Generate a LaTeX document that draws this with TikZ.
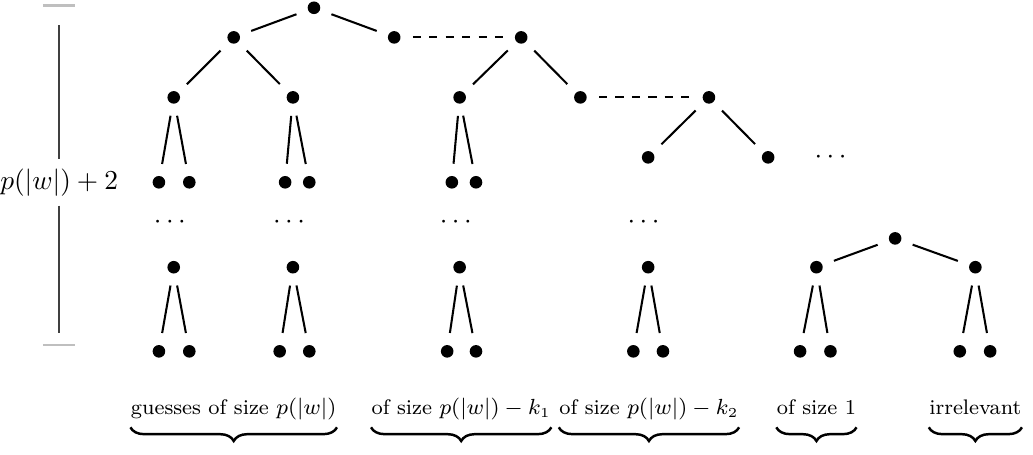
\documentclass[tikz,border=0pt]{standalone}
\usepackage{amsmath}
\usepackage{xcolor}
\usepackage{tikz}
\usetikzlibrary{decorations.pathreplacing, calc}
\tikzstyle{vtx} = [circle, fill=black, inner sep=0pt, minimum size=4.6pt, outer sep=4.5pt]
\tikzstyle{branch} = [line width=0.75pt]
\tikzstyle{gap} = [line width=0.75pt, dashed]
\tikzstyle{grp} = [font=\fontsize{7.7pt}{9pt}\selectfont, anchor=base, inner xsep=0pt, inner ysep=1.5pt, text depth=0.3em]
\tikzstyle{brc} = [decorate, decoration={brace, mirror, amplitude=5pt}, line width=0.9pt]

\begin{document}
\begin{tikzpicture}
      \useasboundingbox (0,0) rectangle (13.26,5.83);

      % Height marker
      \draw[lightgray, line width=0.8pt] (0.55,5.76) -- (0.96,5.76);
      \draw[lightgray, line width=0.8pt] (0.55,1.40) -- (0.96,1.40);
      \node (height) at (0.76,3.49) {$p(|w|)+2$};
      \coordinate (htop) at (0.76,5.51);
      \coordinate (hbot) at (0.76,1.55);
      \draw[darkgray, line width=0.7pt] (height) -- (htop);
      \draw[darkgray, line width=0.7pt] (height) -- (hbot);

      % Top levels
      \node[vtx] (r) at (4.03,5.73) {};
      \node[vtx] (a1) at (3.00,5.35) {};
      \node[vtx] (a2) at (5.06,5.35) {};
      \node[vtx] (a3) at (6.69,5.35) {};
      \node[vtx] (b1) at (2.23,4.58) {};
      \node[vtx] (b2) at (3.76,4.58) {};
      \node[vtx] (b3) at (5.90,4.58) {};
      \node[vtx] (b4) at (7.45,4.58) {};
      \node[vtx] (b5) at (9.10,4.58) {};
      \node[vtx] (c1) at (8.32,3.81) {};
      \node[vtx] (c2) at (9.86,3.81) {};
      \node (cdots) at (10.69,3.81) {$\cdots$};

      % Guess chains
      \node[vtx] (u1l) at (2.04,3.49) {};
      \node[vtx] (u1r) at (2.43,3.49) {};
      \node[vtx] (u2l) at (3.66,3.49) {};
      \node[vtx] (u2r) at (3.97,3.49) {};
      \node[vtx] (u3l) at (5.80,3.49) {};
      \node[vtx] (u3r) at (6.11,3.49) {};
      \node (d1) at (2.21,2.98) {$\cdots$};
      \node (d2) at (3.74,2.98) {$\cdots$};
      \node (d3) at (5.88,2.98) {$\cdots$};
      \node (d4) at (8.29,2.98) {$\cdots$};
      \node[vtx] (m1) at (2.23,2.40) {};
      \node[vtx] (m2) at (3.76,2.40) {};
      \node[vtx] (m3) at (5.90,2.40) {};
      \node[vtx] (m4) at (8.32,2.40) {};

      % Irrelevant part
      \node[vtx] (r2) at (11.49,2.77) {};
      \node[vtx] (m5) at (10.48,2.40) {};
      \node[vtx] (m6) at (12.52,2.40) {};

      % Leaves
      \node[vtx] (v1l) at (2.04,1.32) {};
      \node[vtx] (v1r) at (2.43,1.32) {};
      \node[vtx] (v2l) at (3.59,1.32) {};
      \node[vtx] (v2r) at (3.97,1.32) {};
      \node[vtx] (v3l) at (5.74,1.32) {};
      \node[vtx] (v3r) at (6.11,1.32) {};
      \node[vtx] (v4l) at (8.13,1.32) {};
      \node[vtx] (v4r) at (8.51,1.32) {};
      \node[vtx] (v5l) at (10.27,1.32) {};
      \node[vtx] (v5r) at (10.66,1.32) {};
      \node[vtx] (v6l) at (12.32,1.32) {};
      \node[vtx] (v6r) at (12.71,1.32) {};

      % Branches
      \foreach \p/\c in {r/a1, r/a2, a1/b1, a1/b2, a3/b3, a3/b4, b5/c1, b5/c2,
                         b1/u1l, b1/u1r, b2/u2l, b2/u2r, b3/u3l, b3/u3r,
                         r2/m5, r2/m6,
                         m1/v1l, m1/v1r, m2/v2l, m2/v2r, m3/v3l, m3/v3r,
                         m4/v4l, m4/v4r, m5/v5l, m5/v5r, m6/v6l, m6/v6r}
        \draw[branch] (\p) -- (\c);
      \draw[gap] (a2) -- (a3);
      \draw[gap] (b4) -- (b5);

      % Group labels with braces
      \node[grp] (g1) at (3.00,0.51) {guesses of size $p(|w|)$};
      \node[grp] (g2) at (5.92,0.51) {of size $p(|w|)-k_1$};
      \node[grp] (g3) at (8.33,0.51) {of size $p(|w|)-k_2$};
      \node[grp] (g4) at (10.48,0.51) {of size 1};
      \node[grp] (g5) at (12.52,0.51) {irrelevant};
      \foreach \g in {g1, g2, g3, g4, g5}
        \draw[brc] (\g.south west) -- (\g.south east);
    \end{tikzpicture}
\end{document}
